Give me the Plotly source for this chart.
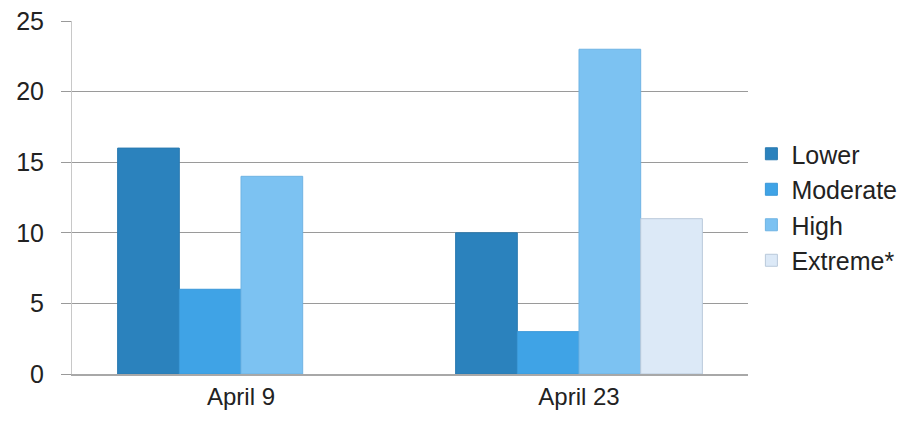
import plotly.graph_objects as go

categories = ["April 9", "April 23"]
series_names = ["Lower", "Moderate", "High", "Extreme*"]
lower = [16, 10]
moderate = [6, 3]
high = [14, 23]
extreme = [None, 11]
y_ticks = [0, 5, 10, 15, 20, 25]

colors = ["#2b82bd", "#3fa3e6", "#7cc2f2", "#dce9f7"]
lines = ["#2a7ab0", "#3a98d8", "#6fb3e3", "#b9c9da"]

fig = go.Figure()
for name, vals, c, lc in zip(series_names, [lower, moderate, high, extreme], colors, lines):
    fig.add_trace(go.Bar(
        name=name, x=categories, y=vals,
        marker=dict(color=c, line=dict(color=lc, width=1)),
    ))

fig.update_layout(
    width=922, height=425,
    barmode="group", bargap=0.27, bargroupgap=0,
    paper_bgcolor="white", plot_bgcolor="white",
    margin=dict(l=72, r=174, t=21, b=51, autoexpand=False),
    font=dict(family="Liberation Sans, Arial, sans-serif", size=24, color="#222222"),
    showlegend=True,
    legend=dict(x=1.005, xanchor="left", y=0.473, yanchor="middle",
                font=dict(size=25, color="#222222"), itemwidth=30,
                tracegroupgap=0, bgcolor="rgba(0,0,0,0)"),
    xaxis=dict(showgrid=False, showline=True, linecolor="#a8a8a8", linewidth=1.5,
               ticks="", tickfont=dict(size=24), automargin=False),
    yaxis=dict(range=[0, 25], tickvals=y_ticks, showgrid=True, gridcolor="#9a9a9a",
               gridwidth=1, showline=True, linecolor="#c8c8c8", linewidth=1,
               ticks="outside", ticklen=10, tickcolor="#9a9a9a",
               ticklabelstandoff=12,
               zeroline=False, tickfont=dict(size=25), automargin=False),
)

fig.write_html("out.html", config={"displayModeBar": False},
               post_script="document.body.style.margin='0';")
